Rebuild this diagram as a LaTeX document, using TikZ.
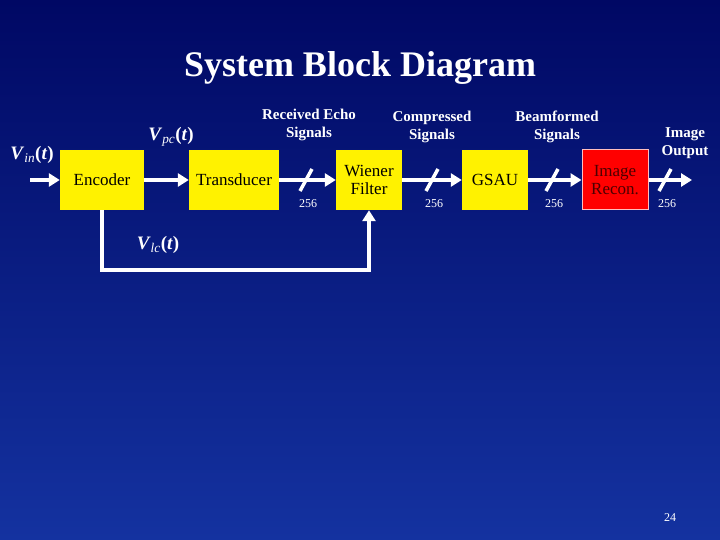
\documentclass[tikz,border=0pt]{standalone}
\usepackage{fontspec}
\setmainfont{Liberation Serif}
\usetikzlibrary{arrows.meta}
\definecolor{bgtop}{RGB}{0,8,100}
\definecolor{bgbot}{RGB}{20,50,160}
\begin{document}
\begin{tikzpicture}[x=1pt,y=-1pt,
  blk/.style={draw=none,fill=yellow,minimum width=#1,minimum height=60pt,inner sep=0pt,font=\fontsize{17}{18}\selectfont,align=center},
  blk/.default=84pt,
  wire/.style={white,line width=4pt,-{Triangle[length=11pt,width=13pt]}},
  lab/.style={white,font=\bfseries\fontsize{15}{18}\selectfont,align=center},
  sig/.style={white,font=\bfseries\fontsize{19}{20}\selectfont},
  num/.style={white,font=\fontsize{12}{13}\selectfont},
  sl/.style={white,line width=3.5pt}]
\shade[top color=bgtop,bottom color=bgbot] (0,0) rectangle (720,540);
\useasboundingbox (0,0) rectangle (720,540);
\node[white,font=\bfseries\fontsize{36}{38}\selectfont] (title) at (360,68) {System Block Diagram};
\node[blk=84pt] (enc) at (102,180) {Encoder};
\node[blk=90pt] (tra) at (234,180) {Transducer};
\node[blk=66pt] (wie) at (369,180) {Wiener\\Filter};
\node[blk=66pt] (gsa) at (495,180) {GSAU};
\node[blk=66pt,fill=red,draw=pink,line width=1pt,text=black!70!red] (rec) at (615,180) {Image\\Recon.};
\coordinate (in) at (30,180);
\coordinate (out) at (692,180);
\coordinate (fb1) at (102,270);
\coordinate (fb2) at (369,270);
\draw[wire] (in) -- (enc.west);
\draw[wire] (enc.east) -- (tra.west);
\draw[wire] (tra.east) -- (wie.west);
\draw[wire] (wie.east) -- (gsa.west);
\draw[wire] (gsa.east) -- (rec.west);
\draw[wire] (rec.east) -- (out);
\draw[wire] (enc.south) -- (fb1) -- (fb2) -- (wie.south);
\foreach \x/\n in {306/a,432/b,552/c,665/d}{
  \draw[sl] (\x-6,191) -- (\x+6,169);
  \node[num] (n\n) at (\x+2,204) {256};
}
\node[sig] (vin) at (32,155) {\textit{V}$_{\mathit{in}}$(\textit{t})};
\node[sig] (vpc) at (171,137) {\textit{V}$_{\mathit{pc}}$(\textit{t})};
\node[sig] (vlc) at (158,245) {\textit{V}$_{\mathit{lc}}$(\textit{t})};
\node[lab] (rcv) at (309,125) {Received Echo\\Signals};
\node[lab] (cmp) at (432,127) {Compressed\\Signals};
\node[lab] (bmf) at (557,127) {Beamformed\\Signals};
\node[lab] (iout) at (685,143) {Image\\Output};
\node[white,font=\fontsize{12}{13}\selectfont] (pg) at (670,518) {24};
\end{tikzpicture}
\end{document}
